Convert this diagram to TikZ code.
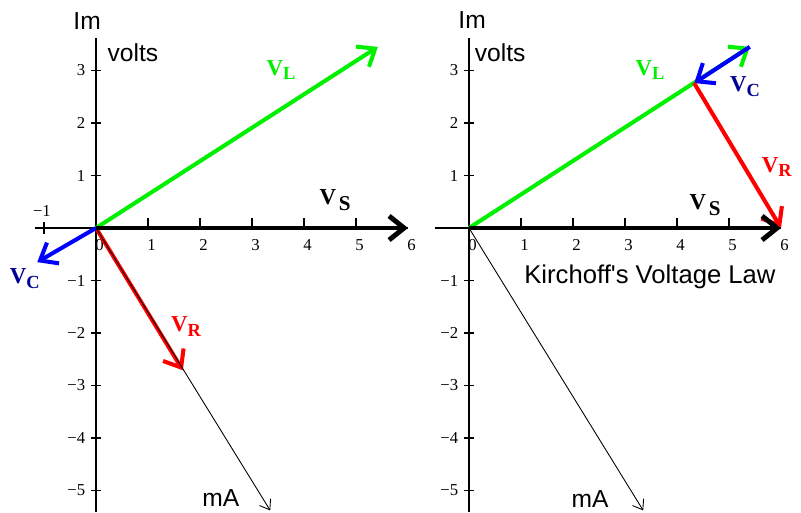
\documentclass[tikz,border=0pt]{standalone}
\usepackage{fontspec}
\setmainfont{Liberation Serif}
\setsansfont{Liberation Sans}
\usetikzlibrary{arrows.meta,positioning}
\definecolor{vlgreen}{RGB}{0,240,0}
\definecolor{vcblue}{RGB}{0,0,255}
\definecolor{vclabel}{RGB}{0,0,150}
\definecolor{vrred}{RGB}{255,0,0}
\newcommand{\vsub}[1]{\textbf{\fontsize{13}{13}\selectfont V\raisebox{-0.45ex}{\fontsize{10.5}{10.5}\selectfont #1}}}
\newcommand{\vsupply}{\textbf{\fontsize{13}{13}\selectfont V\hspace{0.12em}\raisebox{-0.55ex}{\fontsize{12}{12}\selectfont S}}}

\begin{document}
\begin{tikzpicture}[x=1.04cm,y=1.05cm,
    axis/.style={line width=0.8pt},
    ticklab/.style={font=\fontsize{9.5}{9.5}\selectfont,inner sep=0pt},
    vec/.style={line width=2.3pt,-{Straight Barb[length=3mm,width=4.8mm]}},
    vsup/.style={vec,line width=2.8pt},
    cur/.style={line width=0.5pt,-{Straight Barb[length=1.8mm,width=2.6mm]}},
    word/.style={font=\sffamily\fontsize{14}{14}\selectfont,inner sep=0pt},
    vlab/.style={inner sep=0pt}]
  \useasboundingbox (0cm,0cm) rectangle (16.02cm,10.24cm);

  \begin{scope}[shift={(1.92cm,5.68cm)}]
    \coordinate (oa) at (0,0);
    \coordinate (topa) at (0,3.62);
    \coordinate (bota) at (0,-5.41);
    \coordinate (enda) at (-1.17,0);
    \coordinate (sa) at (6,0);
    \coordinate (la) at (5.42,3.45);
    \coordinate (ca) at (-1.13,-0.65);
    \coordinate (ra) at (1.67,-2.71);
    \coordinate (ma) at (3.35,-5.38);
    \draw[axis] (bota) -- (topa);
    \draw[axis] (enda) -- (sa);
    \foreach \k/\t in {-5/−5,-4/−4,-3/−3,-2/−2,-1/−1,1/1,2/2,3/3} {
      \draw[axis] (-0.1,\k) -- (0.1,\k);
      \node[ticklab,anchor=east] at (-0.2,\k) {\t};
    }
    \foreach \k in {1,...,5} \draw[axis] (\k,0) -- (\k,0.19);
    \draw[axis] (-1,-0.12) -- (-1,0.12);
    \foreach \k in {0,...,6} \node[ticklab] at (\k+0.07,-0.33) {\k};
    \node[ticklab] at (-1.04,0.33) {−1};
    \draw[vec,vlgreen] (oa) -- (la);
    \draw[vec,vrred] (oa) -- (ra);
    \draw[vec,vcblue] (oa) -- (ca);
    \draw[vsup,black] (oa) -- (sa);
    \draw[cur] (oa) -- (ma);
    \node[word] (ima) at (-0.17,3.94) {Im};
    \node[word] (volta) at (0.71,3.33) {volts};
    \node[vlab,text=vlgreen] (vla) at (3.56,3.01) {\vsub{L}};
    \node[vlab] (vsa) at (4.6,0.53) {\vsupply};
    \node[vlab,text=vclabel] (vca) at (-1.37,-0.97) {\vsub{C}};
    \node[vlab,text=vrred] (vra) at (1.73,-1.87) {\vsub{R}};
    \node[word] (maa) at (2.4,-5.15) {mA};
  \end{scope}

  \begin{scope}[shift={(9.38cm,5.68cm)}]
    \coordinate (ob) at (0,0);
    \coordinate (topb) at (0,3.62);
    \coordinate (botb) at (0,-5.41);
    \coordinate (endb) at (-0.65,0);
    \coordinate (sb) at (6,0);
    \coordinate (lb) at (5.4,3.45);
    \coordinate (cb) at (4.33,2.76);
    \coordinate (mb) at (3.35,-5.38);
    \draw[axis] (botb) -- (topb);
    \draw[axis] (endb) -- (sb);
    \foreach \k/\t in {-5/−5,-4/−4,-3/−3,-2/−2,-1/−1,1/1,2/2,3/3} {
      \draw[axis] (-0.1,\k) -- (0.1,\k);
      \node[ticklab,anchor=east] at (-0.2,\k) {\t};
    }
    \foreach \k in {1,...,5} \draw[axis] (\k,0) -- (\k,0.19);
    \foreach \k in {0,...,6} \node[ticklab] at (\k+0.07,-0.33) {\k};
    \draw[vec,vlgreen] (ob) -- (lb);
    \draw[vec,vcblue] (lb) -- (cb);
    \draw[vec,vrred] (cb) -- (sb);
    \draw[vsup,black] (ob) -- (sb);
    \draw[cur] (ob) -- (mb);
    \node[word] (imb) at (0.06,3.96) {Im};
    \node[word] (voltb) at (0.6,3.33) {volts};
    \node[vlab,text=vlgreen] (vlb) at (3.48,3.01) {\vsub{L}};
    \node[vlab] (vsb) at (4.54,0.44) {\vsupply};
    \node[vlab,text=vclabel] (vcb) at (5.31,2.69) {\vsub{C}};
    \node[vlab,text=vrred] (vrb) at (5.92,1.16) {\vsub{R}};
    \node[word] (mab) at (2.33,-5.17) {mA};
    \node[word,font=\sffamily\fontsize{14.6}{14.6}\selectfont] (kvl) at (3.48,-0.93) {Kirchoff\textquotesingle s Voltage Law};
  \end{scope}
\end{tikzpicture}
\end{document}
